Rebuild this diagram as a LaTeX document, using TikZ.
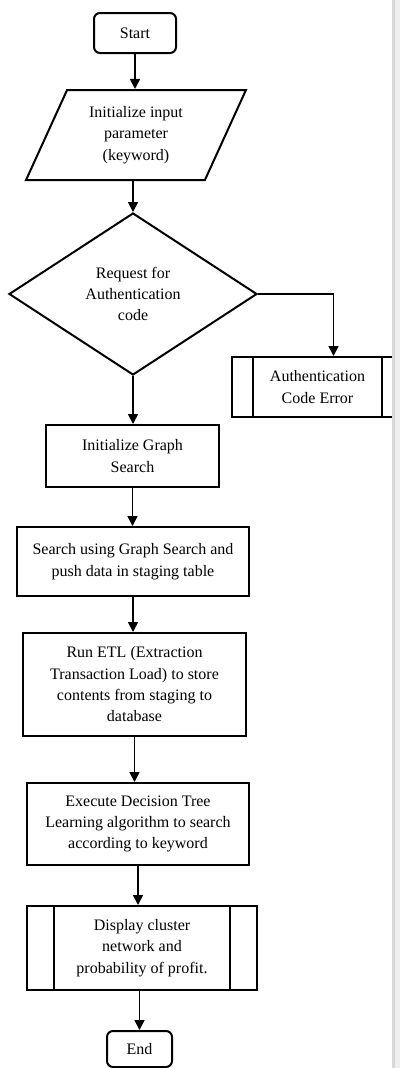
\documentclass[tikz,border=0pt]{standalone}
\usepackage{fontspec}
\setmainfont{Liberation Serif}
\usetikzlibrary{shapes.geometric,arrows.meta}

\tikzset{
  box/.style={draw, rectangle, line width=1.5pt, inner sep=0pt, align=center,
    font=\fontsize{12}{16}\selectfont},
  term/.style={box, rounded corners=4.5pt},
  io/.style={box, trapezium, trapezium left angle=64, trapezium right angle=116,
    trapezium stretches=true},
  ask/.style={box, diamond},
  subproc/.style={box, path picture={
      \draw[line width=1.5pt] ([xshift=#1]path picture bounding box.north west)
        -- ([xshift=#1]path picture bounding box.south west);
      \draw[line width=1.5pt] ([xshift=-#1]path picture bounding box.north east)
        -- ([xshift=-#1]path picture bounding box.south east);}},
  arr/.style={-{Triangle[length=7.5pt,width=7.5pt]}, line width=1.3pt}
}

\begin{document}
\begin{tikzpicture}[x=0.75pt,y=-0.75pt]
  \useasboundingbox[fill=white] (0,0) rectangle (400,1068);

  % main column
  \node[term, minimum width=61.5pt, minimum height=30pt] (start) at (135,33) {Start};
  \node[io, minimum width=165pt, minimum height=67.5pt] (input) at (136,135)
    {Initialize input\\parameter\\(keyword)};
  \node[ask, minimum width=186pt, minimum height=121.5pt] (dec) at (133,294)
    {Request for\\Authentication\\code};
  \node[subproc=15.75pt, minimum width=128.25pt, minimum height=45pt] (auth) at (317.5,387)
    {Authentication\\Code Error};
  \node[box, minimum width=129.75pt, minimum height=46.5pt] (graph) at (132.5,456)
    {Initialize Graph\\Search};
  \node[box, minimum width=174pt, minimum height=51.75pt] (search) at (133,561.5)
    {Search using Graph Search and\\push data in staging table};
  \node[box, minimum width=167.25pt, minimum height=77.25pt] (etl) at (134.5,684.5)
    {Run ETL (Extraction\\Transaction Load) to store\\contents from staging to\\database};
  \node[box, minimum width=166.5pt, minimum height=61.5pt] (tree) at (138,824)
    {Execute Decision Tree\\Learning algorithm to search\\according to keyword};
  \node[subproc=20.25pt, minimum width=172.5pt, minimum height=63pt] (disp) at (142,948)
    {Display cluster\\network and\\probability of profit.};
  \node[term, minimum width=48.75pt, minimum height=27pt] (end) at (139.5,1049) {End};

  % arrows
  \draw[arr] (start.south) -- (start.south |- input.north);
  \draw[arr] (dec.north |- input.south) -- (dec.north);
  \draw[arr] (dec.east) -| ([xshift=12pt]auth.north);
  \draw[arr] (dec.south) -- (dec.south |- graph.north);
  \draw[arr] (graph.south) -- (graph.south |- search.north);
  \draw[arr] (search.south) -- (search.south |- etl.north);
  \draw[arr] (etl.south) -- (etl.south |- tree.north);
  \draw[arr] (tree.south) -- (tree.south |- disp.north);
  \draw[arr] (end.north |- disp.south) -- (end.north);

  % page edge on the right
  \fill[gray!30] (392,0) rectangle (395,1068);
  \fill[gray!13] (395,0) rectangle (400,1068);
\end{tikzpicture}
\end{document}
